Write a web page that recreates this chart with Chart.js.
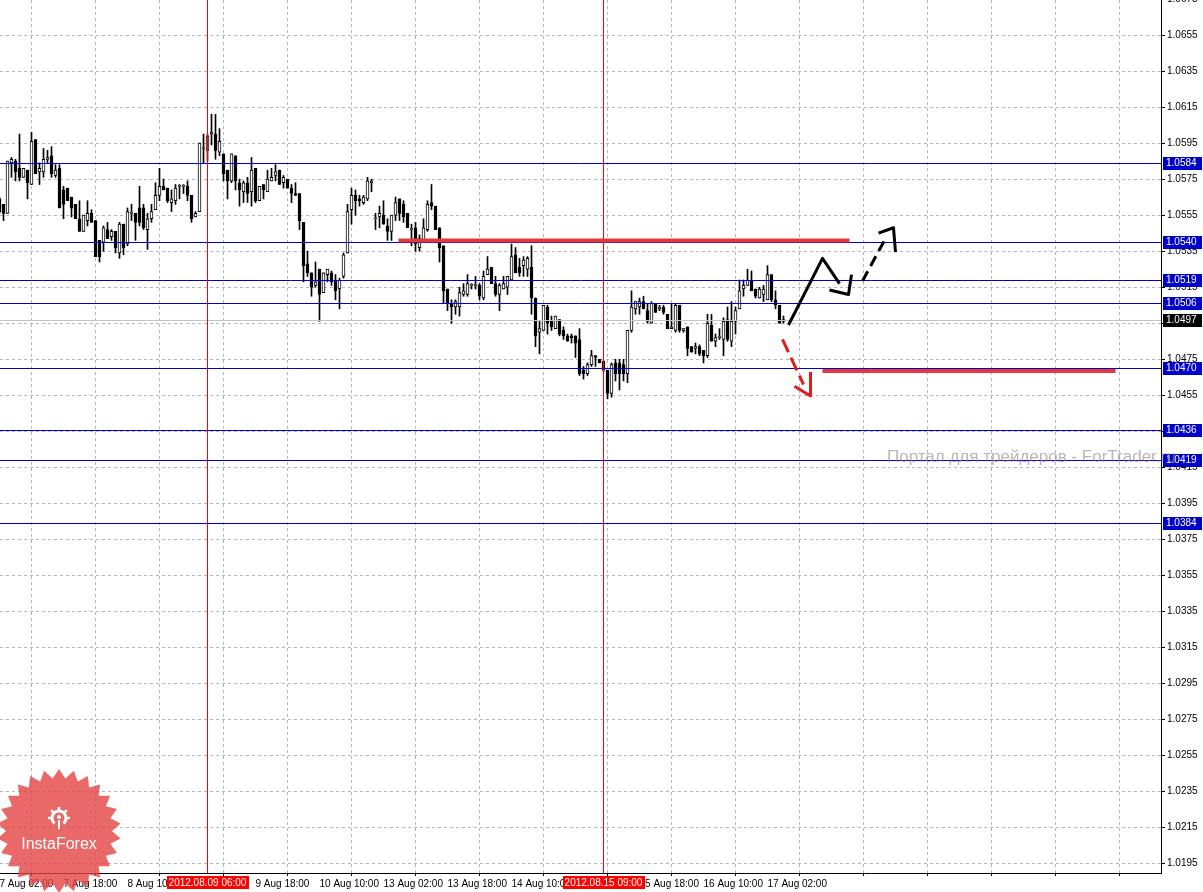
<!DOCTYPE html>
<html>
<head>
<meta charset="utf-8">
<script src="https://cdn.jsdelivr.net/npm/chart.js@4/dist/chart.umd.min.js"></script>
<style>
  html, body { margin: 0; padding: 0; background: #fff; }
  #wrap { width: 1203px; height: 892px; position: relative; }
</style>
</head>
<body>
<div id="wrap"><canvas id="chart"></canvas></div>
<script>
// H1 candles, bar 0 = 7 Aug 02:00
const candleOpen = [
  1.0564, 1.0561, 1.0556, 1.0584, 1.0585, 1.0581, 1.0576, 1.0580, 1.0572, 1.0597,
  1.0579, 1.0579, 1.0586, 1.0588, 1.0577, 1.0581, 1.0569, 1.0570, 1.0565, 1.0561,
  1.0553, 1.0546, 1.0552, 1.0556, 1.0552, 1.0541, 1.0540, 1.0547, 1.0543, 1.0546,
  1.0534, 1.0550, 1.0539, 1.0556, 1.0556, 1.0559, 1.0559, 1.0547, 1.0553, 1.0558,
  1.0566, 1.0571, 1.0570, 1.0562, 1.0563, 1.0571, 1.0571, 1.0571, 1.0566, 1.0554,
  1.0557, 1.0592, 1.0591, 1.0600, 1.0600, 1.0590, 1.0589, 1.0580, 1.0574, 1.0588,
  1.0573, 1.0568, 1.0573, 1.0568, 1.0581, 1.0563, 1.0572, 1.0568, 1.0574, 1.0577,
  1.0580, 1.0573, 1.0575, 1.0570, 1.0567, 1.0567, 1.0551, 1.0528, 1.0523, 1.0516,
  1.0525, 1.0512, 1.0522, 1.0523, 1.0519, 1.0514, 1.0521, 1.0534, 1.0558, 1.0566,
  1.0564, 1.0562, 1.0564, 1.0573, 1.0553, 1.0554, 1.0555, 1.0549, 1.0546, 1.0555,
  1.0564, 1.0561, 1.0556, 1.0547, 1.0548, 1.0537, 1.0541, 1.0547, 1.0562, 1.0560,
  1.0548, 1.0538, 1.0514, 1.0506, 1.0504, 1.0504, 1.0511, 1.0511, 1.0516, 1.0516,
  1.0516, 1.0509, 1.0522, 1.0526, 1.0517, 1.0511, 1.0514, 1.0515, 1.0519, 1.0533,
  1.0526, 1.0527, 1.0525, 1.0526, 1.0509, 1.0490, 1.0491, 1.0504, 1.0496, 1.0492,
  1.0497, 1.0491, 1.0488, 1.0488, 1.0488, 1.0486, 1.0469, 1.0467, 1.0472, 1.0477,
  1.0475, 1.0474, 1.0469, 1.0456, 1.0473, 1.0473, 1.0472, 1.0467, 1.0491, 1.0503,
  1.0504, 1.0507, 1.0502, 1.0495, 1.0506, 1.0503, 1.0504, 1.0500, 1.0492, 1.0491,
  1.0505, 1.0491, 1.0493, 1.0482, 1.0481, 1.0482, 1.0480, 1.0477, 1.0494, 1.0485,
  1.0487, 1.0486, 1.0497, 1.0485, 1.0496, 1.0503, 1.0514, 1.0516, 1.0519, 1.0514,
  1.0509, 1.0511, 1.0508, 1.0522, 1.0508, 1.0505, 1.0496
];
const candleHigh = [
  1.0565, 1.0561, 1.0585, 1.0587, 1.0586, 1.0600, 1.0581, 1.0580, 1.0601, 1.0597,
  1.0584, 1.0592, 1.0591, 1.0593, 1.0583, 1.0583, 1.0571, 1.0570, 1.0565, 1.0561,
  1.0563, 1.0555, 1.0563, 1.0558, 1.0552, 1.0541, 1.0549, 1.0551, 1.0547, 1.0546,
  1.0551, 1.0550, 1.0559, 1.0561, 1.0556, 1.0571, 1.0561, 1.0556, 1.0561, 1.0573,
  1.0581, 1.0575, 1.0570, 1.0569, 1.0572, 1.0572, 1.0572, 1.0574, 1.0566, 1.0557,
  1.0595, 1.0600, 1.0600, 1.0611, 1.0611, 1.0603, 1.0589, 1.0580, 1.0589, 1.0588,
  1.0575, 1.0574, 1.0576, 1.0587, 1.0581, 1.0571, 1.0572, 1.0580, 1.0581, 1.0583,
  1.0580, 1.0577, 1.0575, 1.0572, 1.0573, 1.0567, 1.0551, 1.0535, 1.0523, 1.0529,
  1.0525, 1.0523, 1.0525, 1.0524, 1.0522, 1.0520, 1.0534, 1.0561, 1.0570, 1.0569,
  1.0566, 1.0566, 1.0576, 1.0575, 1.0556, 1.0560, 1.0563, 1.0553, 1.0555, 1.0565,
  1.0564, 1.0563, 1.0556, 1.0550, 1.0551, 1.0544, 1.0553, 1.0563, 1.0572, 1.0560,
  1.0548, 1.0538, 1.0514, 1.0508, 1.0508, 1.0515, 1.0517, 1.0522, 1.0517, 1.0521,
  1.0517, 1.0524, 1.0532, 1.0526, 1.0521, 1.0517, 1.0521, 1.0521, 1.0539, 1.0537,
  1.0531, 1.0532, 1.0532, 1.0538, 1.0509, 1.0496, 1.0505, 1.0505, 1.0499, 1.0499,
  1.0497, 1.0493, 1.0489, 1.0489, 1.0488, 1.0492, 1.0471, 1.0473, 1.0480, 1.0477,
  1.0475, 1.0474, 1.0469, 1.0473, 1.0475, 1.0475, 1.0475, 1.0491, 1.0513, 1.0507,
  1.0509, 1.0510, 1.0506, 1.0507, 1.0506, 1.0505, 1.0505, 1.0500, 1.0506, 1.0506,
  1.0505, 1.0492, 1.0493, 1.0482, 1.0484, 1.0483, 1.0480, 1.0500, 1.0500, 1.0489,
  1.0492, 1.0498, 1.0504, 1.0507, 1.0504, 1.0519, 1.0519, 1.0525, 1.0524, 1.0514,
  1.0515, 1.0516, 1.0527, 1.0522, 1.0513, 1.0505, 1.0499
];
const candleLow = [
  1.0556, 1.0552, 1.0556, 1.0576, 1.0574, 1.0574, 1.0576, 1.0564, 1.0572, 1.0578,
  1.0572, 1.0576, 1.0584, 1.0576, 1.0576, 1.0559, 1.0553, 1.0563, 1.0554, 1.0553,
  1.0546, 1.0546, 1.0549, 1.0551, 1.0532, 1.0529, 1.0535, 1.0542, 1.0541, 1.0534,
  1.0531, 1.0533, 1.0538, 1.0552, 1.0541, 1.0549, 1.0547, 1.0536, 1.0551, 1.0558,
  1.0563, 1.0569, 1.0562, 1.0557, 1.0561, 1.0564, 1.0567, 1.0563, 1.0551, 1.0554,
  1.0557, 1.0584, 1.0585, 1.0594, 1.0586, 1.0588, 1.0574, 1.0564, 1.0573, 1.0569,
  1.0560, 1.0562, 1.0562, 1.0560, 1.0562, 1.0563, 1.0564, 1.0568, 1.0574, 1.0574,
  1.0572, 1.0570, 1.0570, 1.0562, 1.0566, 1.0547, 1.0518, 1.0521, 1.0510, 1.0515,
  1.0496, 1.0512, 1.0518, 1.0516, 1.0508, 1.0503, 1.0520, 1.0534, 1.0550, 1.0555,
  1.0560, 1.0561, 1.0563, 1.0568, 1.0547, 1.0548, 1.0550, 1.0541, 1.0541, 1.0552,
  1.0552, 1.0551, 1.0548, 1.0538, 1.0535, 1.0535, 1.0540, 1.0546, 1.0558, 1.0547,
  1.0529, 1.0506, 1.0502, 1.0495, 1.0500, 1.0499, 1.0510, 1.0510, 1.0514, 1.0514,
  1.0508, 1.0508, 1.0522, 1.0517, 1.0510, 1.0502, 1.0514, 1.0511, 1.0519, 1.0523,
  1.0521, 1.0521, 1.0521, 1.0500, 1.0482, 1.0478, 1.0491, 1.0489, 1.0491, 1.0492,
  1.0488, 1.0486, 1.0485, 1.0484, 1.0476, 1.0466, 1.0464, 1.0466, 1.0471, 1.0471,
  1.0473, 1.0468, 1.0453, 1.0454, 1.0463, 1.0458, 1.0463, 1.0462, 1.0490, 1.0500,
  1.0500, 1.0503, 1.0495, 1.0495, 1.0501, 1.0502, 1.0500, 1.0492, 1.0492, 1.0490,
  1.0490, 1.0490, 1.0477, 1.0479, 1.0478, 1.0477, 1.0473, 1.0476, 1.0485, 1.0482,
  1.0486, 1.0477, 1.0485, 1.0482, 1.0489, 1.0503, 1.0510, 1.0516, 1.0513, 1.0509,
  1.0509, 1.0507, 1.0508, 1.0507, 1.0503, 1.0495, 1.0495
];
const candleClose = [
  1.0557, 1.0556, 1.0585, 1.0586, 1.0579, 1.0576, 1.0581, 1.0573, 1.0596, 1.0578,
  1.0581, 1.0586, 1.0587, 1.0578, 1.0580, 1.0559, 1.0561, 1.0563, 1.0559, 1.0553,
  1.0546, 1.0555, 1.0556, 1.0551, 1.0532, 1.0532, 1.0548, 1.0542, 1.0546, 1.0537,
  1.0550, 1.0537, 1.0557, 1.0556, 1.0551, 1.0551, 1.0548, 1.0553, 1.0557, 1.0566,
  1.0571, 1.0569, 1.0563, 1.0564, 1.0570, 1.0571, 1.0571, 1.0566, 1.0553, 1.0556,
  1.0595, 1.0592, 1.0599, 1.0601, 1.0591, 1.0596, 1.0578, 1.0574, 1.0589, 1.0574,
  1.0569, 1.0573, 1.0567, 1.0580, 1.0563, 1.0571, 1.0569, 1.0575, 1.0576, 1.0579,
  1.0572, 1.0576, 1.0570, 1.0567, 1.0566, 1.0552, 1.0527, 1.0523, 1.0515, 1.0518,
  1.0511, 1.0523, 1.0525, 1.0518, 1.0513, 1.0519, 1.0533, 1.0557, 1.0566, 1.0563,
  1.0563, 1.0565, 1.0574, 1.0574, 1.0553, 1.0556, 1.0550, 1.0546, 1.0555, 1.0562,
  1.0556, 1.0554, 1.0548, 1.0547, 1.0539, 1.0542, 1.0548, 1.0561, 1.0560, 1.0547,
  1.0537, 1.0513, 1.0506, 1.0504, 1.0507, 1.0512, 1.0513, 1.0517, 1.0516, 1.0516,
  1.0510, 1.0521, 1.0525, 1.0517, 1.0511, 1.0516, 1.0517, 1.0521, 1.0532, 1.0523,
  1.0523, 1.0530, 1.0531, 1.0509, 1.0488, 1.0492, 1.0505, 1.0495, 1.0493, 1.0499,
  1.0489, 1.0488, 1.0485, 1.0487, 1.0484, 1.0467, 1.0467, 1.0472, 1.0477, 1.0476,
  1.0473, 1.0469, 1.0456, 1.0472, 1.0467, 1.0467, 1.0467, 1.0491, 1.0504, 1.0507,
  1.0507, 1.0503, 1.0496, 1.0506, 1.0501, 1.0504, 1.0501, 1.0492, 1.0493, 1.0505,
  1.0491, 1.0492, 1.0481, 1.0479, 1.0482, 1.0478, 1.0477, 1.0495, 1.0485, 1.0487,
  1.0487, 1.0496, 1.0486, 1.0496, 1.0502, 1.0513, 1.0516, 1.0519, 1.0513, 1.0510,
  1.0514, 1.0514, 1.0522, 1.0508, 1.0505, 1.0495, 1.0497
];

// axis ticks
const priceTicks = [
  1.0195, 1.0215, 1.0235, 1.0255, 1.0275, 1.0295, 1.0315, 1.0335, 1.0355, 1.0375,
  1.0395, 1.0415, 1.0435, 1.0455, 1.0475, 1.0495, 1.0515, 1.0535, 1.0555, 1.0575,
  1.0595, 1.0615, 1.0635, 1.0655, 1.0675
];
const timeTickBars = [0, 16, 32, 48, 64, 80, 96, 112, 128, 144, 160, 176, 192, 208, 224, 240, 256, 272, 288];
const timeTickLabels = [
  '7 Aug 02:00', '7 Aug 18:00', '8 Aug 10:00', '9 Aug 02:00', '9 Aug 18:00',
  '10 Aug 10:00', '13 Aug 02:00', '13 Aug 18:00', '14 Aug 10:00', '15 Aug 02:00',
  '15 Aug 18:00', '16 Aug 10:00', '17 Aug 02:00'
];

// horizontal levels, current price and marked bars
const levelPrices = [1.0584, 1.0540, 1.0519, 1.0506, 1.0470, 1.0436, 1.0419, 1.0384];
const bidPrice = 1.0497;
const markerBars = [52, 151];
const markerLabels = ['2012.08.09 06:00', '2012.08.15 09:00'];

// hand-drawn forecast marks, [bar, price]
const resistanceLine = [[99.75, 1.0541], [212.5, 1.0541]];
const supportLine = [[205.75, 1.04685], [279, 1.04685]];
const upPathA = [[197.25, 1.0494], [205.75, 1.0531], [210, 1.0517]];
const upPathB = [[207.5, 1.05135], [212.25, 1.0511], [213, 1.0522]];
const upDashed = [[215.75, 1.05185], [221.25, 1.0541]];
const upHead = [[219.75, 1.0545], [223.5, 1.0548], [224, 1.05345]];
const downDashed = [[195.75, 1.0486], [201, 1.0461]];
const downHead = [[198.75, 1.0460], [202.75, 1.04546], [202.75, 1.0468]];

const X_MIN = 0.125, X_MAX = 290.375;
const Y_MIN = 1.018984, Y_MAX = 1.067443;
const FONT = 'Liberation Sans';

const pts = arr => arr.map(([x, y]) => ({ x, y }));

const wickData = candleOpen.map((o, i) => ({ x: i, y: [candleLow[i], candleHigh[i]] }));
const bodyData = candleOpen.map((o, i) => ({ x: i, y: [o, candleClose[i]] }));
const bodyFill = candleOpen.map((o, i) => (candleClose[i] >= o ? '#fff' : '#000'));

function lineSet(points, color, width, order, dash) {
  return {
    type: 'line',
    data: pts(points),
    borderColor: color,
    borderWidth: width,
    borderDash: dash || [],
    pointRadius: 0,
    tension: 0,
    fill: false,
    order,
    borderCapStyle: 'butt',
    borderJoinStyle: 'round'
  };
}

const datasets = [
  {
    type: 'bar',
    data: wickData,
    backgroundColor: '#000',
    borderWidth: 0,
    barThickness: 1,
    minBarLength: 1,
    grouped: false,
    order: 11
  },
  {
    type: 'bar',
    data: bodyData,
    backgroundColor: bodyFill,
    borderColor: '#000',
    borderWidth: 1,
    borderSkipped: false,
    barThickness: 3,
    minBarLength: 1,
    grouped: false,
    order: 10
  }
];
datasets.push(lineSet(resistanceLine, '#e23a3a', 4, 3));
datasets.push(lineSet(supportLine, '#e23a3a', 4, 3));
datasets.push(lineSet(upPathA, '#000', 3, 1));
datasets.push(lineSet(upPathB, '#000', 3, 1));
datasets.push(lineSet(upDashed, '#000', 3, 1, [11, 6]));
datasets.push(lineSet(upHead, '#000', 3, 1));
datasets.push(lineSet(downDashed, '#e21c1c', 3, 1, [14, 6]));
datasets.push(lineSet(downHead, '#e21c1c', 3, 1));

// 1px level / marker lines, snapped to the pixel grid
const levelPlugin = {
  id: 'levels',
  beforeDatasetDraw(chart, args) {
    if (args.index !== 2) return;
    const { ctx, chartArea, scales: { x, y } } = chart;
    ctx.save();
    ctx.lineWidth = 1;
    const hline = (price, color) => {
      const py = Math.round(y.getPixelForValue(price)) + 0.5;
      ctx.strokeStyle = color;
      ctx.beginPath();
      ctx.moveTo(chartArea.left, py);
      ctx.lineTo(chartArea.right, py);
      ctx.stroke();
    };
    hline(bidPrice, '#c4c4c4');
    levelPrices.forEach(p => hline(p, '#0000cc'));
    markerBars.forEach(b => {
      const px = Math.floor(x.getPixelForValue(b)) + 0.5;
      ctx.strokeStyle = '#ff0000';
      ctx.beginPath();
      ctx.moveTo(px, chartArea.top);
      ctx.lineTo(px, chartArea.bottom);
      ctx.stroke();
    });
    ctx.restore();
  }
};

function drawBadge(ctx, cx, cy) {
  const spikes = 26, outer = 62, inner = 53;
  ctx.beginPath();
  for (let k = 0; k < spikes * 2; k++) {
    const r = k % 2 ? inner : outer;
    const a = (Math.PI * k) / spikes - Math.PI / 2;
    ctx.lineTo(cx + r * Math.cos(a), cy + r * Math.sin(a));
  }
  ctx.closePath();
  ctx.fillStyle = 'rgba(228, 68, 68, 0.8)';
  ctx.fill();

  // gear icon
  const gx = cx, gy = cy - 13;
  ctx.strokeStyle = '#fff';
  ctx.fillStyle = '#fff';
  ctx.lineWidth = 3;
  ctx.beginPath();
  ctx.arc(gx, gy, 7, Math.PI * 0.72, Math.PI * 2.28);
  ctx.stroke();
  ctx.lineWidth = 2.5;
  for (let t = 0; t < 8; t++) {
    const a = -Math.PI / 2 + t * Math.PI / 4;
    if (t === 3 || t === 4 || t === 5) continue;
    ctx.beginPath();
    ctx.moveTo(gx + 8 * Math.cos(a), gy + 8 * Math.sin(a));
    ctx.lineTo(gx + 11 * Math.cos(a), gy + 11 * Math.sin(a));
    ctx.stroke();
  }
  ctx.beginPath();
  ctx.arc(gx, gy - 1, 2, 0, Math.PI * 2);
  ctx.fill();
  ctx.fillRect(gx - 1, gy + 2, 2, 9);

  ctx.font = `16px "${FONT}"`;
  ctx.textAlign = 'center';
  ctx.textBaseline = 'middle';
  ctx.fillText('InstaForex', cx, cy + 14);
}

const overlayPlugin = {
  id: 'overlay',
  afterDraw(chart) {
    const { ctx, scales, chartArea } = chart;
    const y = scales.y, x = scales.x;
    ctx.save();
    ctx.font = `10px "${FONT}"`;
    ctx.textBaseline = 'middle';
    ctx.textAlign = 'left';

    const tag = (price, color) => {
      const py = Math.round(y.getPixelForValue(price));
      ctx.fillStyle = color;
      ctx.fillRect(chartArea.right + 2, py - 6, 39, 13);
      ctx.fillStyle = '#fff';
      ctx.fillText(price.toFixed(4), chartArea.right + 5, py + 0.5);
    };
    levelPrices.forEach(p => tag(p, '#0000cc'));
    tag(bidPrice, '#000');

    markerBars.forEach((b, k) => {
      const px = x.getPixelForValue(b);
      const w = ctx.measureText(markerLabels[k]).width + 4;
      ctx.fillStyle = '#ff0000';
      ctx.fillRect(Math.round(px - w / 2), chartArea.bottom + 3, Math.round(w), 13);
      ctx.fillStyle = '#fff';
      ctx.textAlign = 'center';
      ctx.fillText(markerLabels[k], px, chartArea.bottom + 10);
      ctx.textAlign = 'left';
    });

    // watermark
    ctx.font = `17px "${FONT}"`;
    ctx.textBaseline = 'alphabetic';
    ctx.fillStyle = 'rgba(150, 128, 128, 0.6)';
    ctx.fillText('Портал для трейдеров - ForTrader.ru', 887, 462);

    drawBadge(ctx, 59, 831);
    ctx.restore();
  }
};

new Chart(document.getElementById('chart'), {
  type: 'bar',
  data: { datasets },
  options: {
    responsive: true,
    maintainAspectRatio: false,
    animation: false,
    devicePixelRatio: 1,
    layout: { padding: 0 },
    plugins: { legend: { display: false }, tooltip: { enabled: false } },
    scales: {
      x: {
        type: 'linear',
        min: X_MIN,
        max: X_MAX,
        offset: false,
        afterBuildTicks: s => { s.ticks = timeTickBars.map(v => ({ value: v })); },
        afterFit: s => {
          s.height = 19;
          s.paddingLeft = 0; s.paddingRight = 0; s.paddingTop = 0; s.paddingBottom = 0;
        },
        ticks: {
          autoSkip: false,
          maxRotation: 0,
          align: 'start',
          padding: 2,
          color: '#000',
          font: { family: FONT, size: 10 },
          callback: v => timeTickLabels[timeTickBars.indexOf(v)] || ''
        },
        grid: { color: '#b8b2c4', tickLength: 3, tickColor: '#000', tickBorderDash: [] },
        border: { display: true, color: '#000', width: 1, dash: [3, 3] }
      },
      y: {
        type: 'linear',
        position: 'right',
        min: Y_MIN,
        max: Y_MAX,
        afterBuildTicks: s => { s.ticks = priceTicks.map(v => ({ value: v })); },
        afterFit: s => {
          s.width = 42;
          s.paddingLeft = 0; s.paddingRight = 0; s.paddingTop = 0; s.paddingBottom = 0;
        },
        ticks: {
          padding: 2,
          color: '#000',
          font: { family: FONT, size: 10 },
          callback: v => v.toFixed(4)
        },
        grid: { color: '#b8b2c4', tickLength: 4, tickColor: '#000', tickBorderDash: [] },
        border: { display: true, color: '#000', width: 1, dash: [3, 3] }
      }
    }
  },
  plugins: [levelPlugin, overlayPlugin]
});
</script>
</body>
</html>
